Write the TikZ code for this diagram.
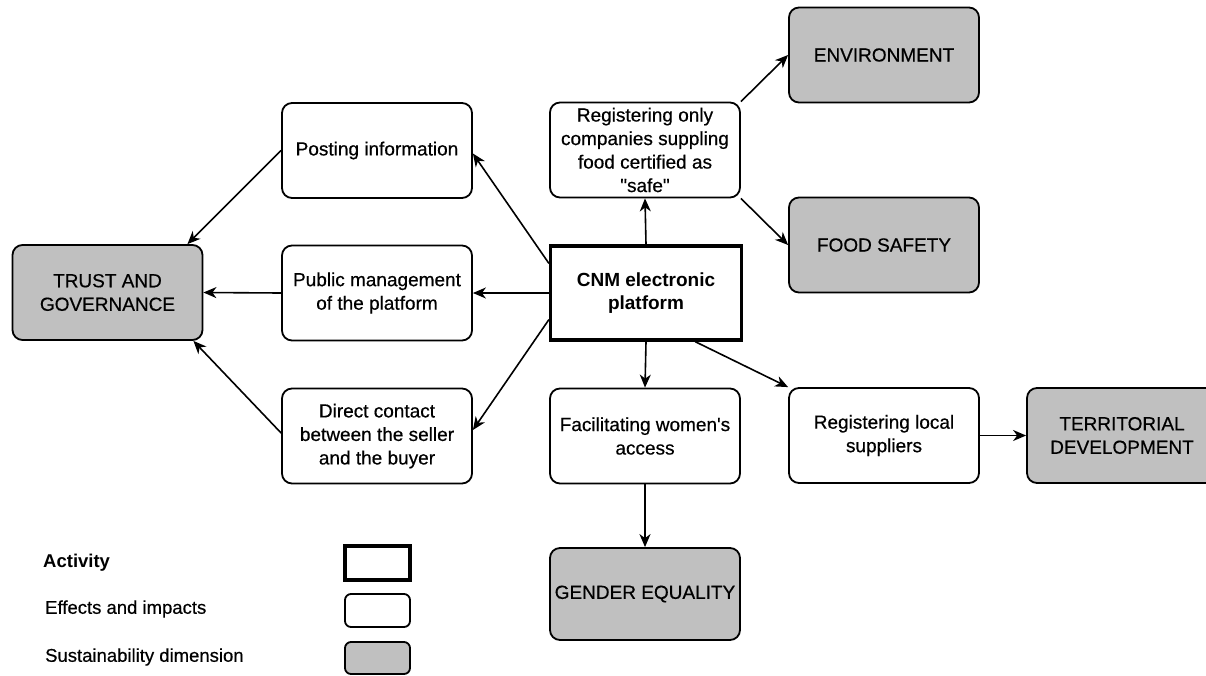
\documentclass[tikz,border=0pt]{standalone}
\usepackage{fontspec}
\setmainfont{Liberation Sans}
\newfontfamily\labelfont{Liberation Sans}[FakeBold=0.5]
\usetikzlibrary{arrows.meta}
\definecolor{dimgray}{RGB}{192,192,192}
\tikzset{
  base/.style={draw=black, line width=1.8pt, align=center, inner sep=0pt,
    minimum width=190pt, minimum height=95pt,
    font=\labelfont\fontsize{19}{23.5}\selectfont},
  effect/.style={base, rounded corners=10pt, fill=white},
  dimension/.style={base, rounded corners=10pt, fill=dimgray},
  activity/.style={base, rectangle, line width=3.2pt, fill=white,
    font=\fontsize{19}{23.5}\selectfont\bfseries},
  arr/.style={line width=1.6pt, -{Stealth[length=13pt,width=11pt,inset=4pt]}},
  legtext/.style={anchor=west, inner sep=0pt, font=\labelfont\fontsize{18.5}{22}\selectfont},
}
\begin{document}
\begin{tikzpicture}[x=1pt, y=-1pt]
\path[use as bounding box, clip] (0,0) rectangle (1206,675);
\fill[white] (0,0) rectangle (1206,675);

% central activity
\node[activity, minimum width=191pt, minimum height=94pt] (cnm) at (646,293) {CNM electronic\\platform};

% effects and impacts
\node[effect] (post)   at (377,150.5) {Posting information};
\node[effect] (pub)    at (377,293)   {Public management\\of the platform};
\node[effect] (direct) at (377,436)   {Direct contact\\between the seller\\and the buyer};
\node[effect] (regsafe) at (645,150)  {Registering only\\companies suppling\\food certified as\\{\char34}safe{\char34}};
\node[effect] (fac)    at (645,436)   {Facilitating women's\\access};
\node[effect] (regloc) at (884,435.5) {Registering local\\suppliers};

% sustainability dimensions
\node[dimension] (trust)  at (107.5,292.5) {TRUST AND\\GOVERNANCE};
\node[dimension] (env)    at (884,55)      {ENVIRONMENT};
\node[dimension] (food)   at (884,245)     {FOOD SAFETY};
\node[dimension, minimum height=92pt] (gender) at (645,594) {GENDER EQUALITY};
\node[dimension] (terr)   at (1122,435.5)  {TERRITORIAL\\DEVELOPMENT};

% connectors
\draw[arr] ([yshift=-19pt]cnm.north west) -- ([yshift=-3pt]post.east);
\draw[arr] (cnm.west) -- (pub.east);
\draw[arr] ([yshift=22pt]cnm.south west) -- ([yshift=6pt]direct.east);
\draw[arr] (post.west) -- ([xshift=-16pt]trust.north east);
\draw[arr] (pub.west) -- (trust.east);
\draw[arr] ([yshift=3pt]direct.west) -- ([xshift=-10pt]trust.south east);
\draw[arr] (cnm.north) -- (regsafe.south);
\draw[arr] (regsafe.north east) -- (env.west);
\draw[arr] (regsafe.south east) -- (food.west);
\draw[arr] (cnm.south) -- (fac.north);
\draw[arr] ([xshift=-48pt]cnm.south east) -- (regloc.north west);
\draw[arr] (fac.south) -- (gender.north);
\draw[arr] (regloc.east) -- (terr.west);

% legend
\node[legtext, font=\fontsize{18.5}{22}\selectfont\bfseries] (lact) at (43,563) {Activity};
\node[legtext] (leff) at (45,609) {Effects and impacts};
\node[legtext] (lsus) at (45,657) {Sustainability dimension};
\node[activity, minimum width=65pt, minimum height=34pt] (kact) at (377.5,563) {};
\node[effect, rounded corners=6pt, minimum width=65pt, minimum height=33pt] (keff) at (377.5,610.5) {};
\node[dimension, rounded corners=6pt, minimum width=65pt, minimum height=32pt] (ksus) at (377.5,658) {};
\end{tikzpicture}
\end{document}
